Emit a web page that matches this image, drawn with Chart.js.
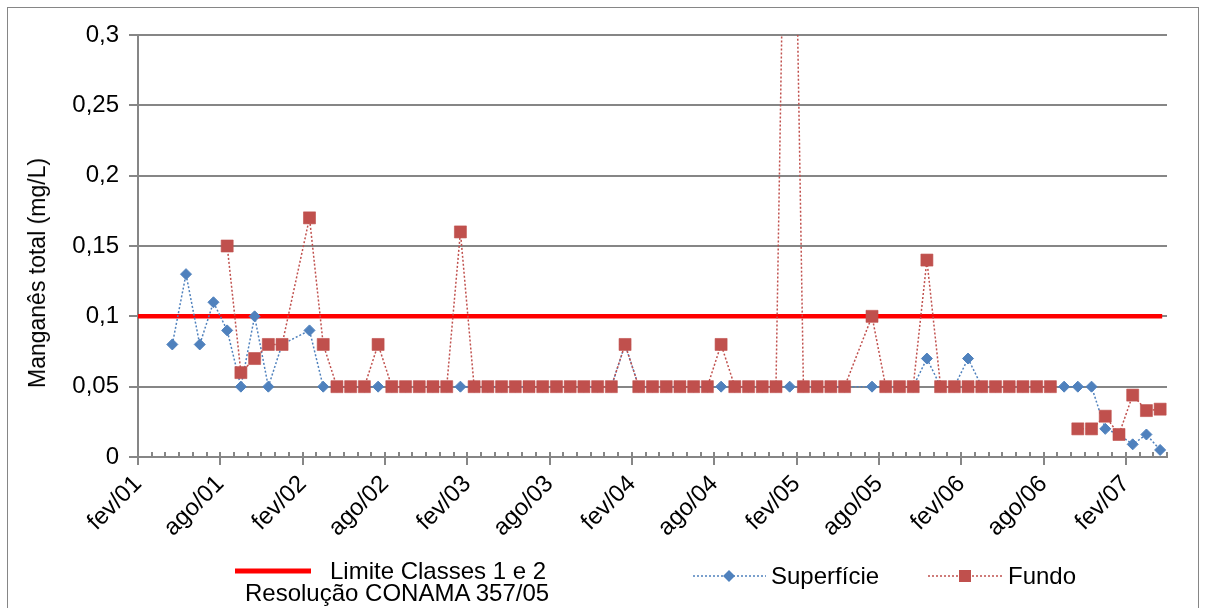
<!DOCTYPE html>
<html>
<head>
<meta charset="utf-8">
<script src="https://cdn.jsdelivr.net/npm/chart.js@4/dist/chart.umd.min.js"></script>
<style>
  body { margin: 0; background: #fff; font-family: 'Liberation Sans', Arial, sans-serif; }
  #wrap { position: relative; width: 1206px; height: 608px; overflow: hidden; }
  #frame { position: absolute; left: 7px; top: 7px; width: 1190px; height: 640px; border: 1px solid #868686; }
  canvas { position: absolute; left: 0; top: 0; }
  .leg { position: absolute; font-size: 24px; line-height: 24px; color: #000; white-space: nowrap; }
  #titulo { position: absolute; left: 37px; top: 273px; font-size: 23px; line-height: 24px; color: #000;
            white-space: nowrap; transform: translate(-50%, -50%) rotate(-90deg); }
  svg { position: absolute; }
</style>
</head>
<body>
<div id="wrap">
  <div id="frame"></div>
  <canvas id="grafico" width="1206" height="608"></canvas>
  <div id="titulo">Manganês total (mg/L)</div>

  <svg style="left:234px;top:566px" width="80" height="10"><line x1="1" y1="5" x2="77" y2="5" stroke="#ff0000" stroke-width="5"/></svg>
  <div class="leg" style="left:330px;top:559px">Limite Classes 1 e 2</div>
  <div class="leg" style="left:245px;top:581px">Resolução CONAMA 357/05</div>

  <svg style="left:692px;top:566px" width="76" height="20">
    <line x1="1" y1="10" x2="74" y2="10" stroke="#4f81bd" stroke-width="1.5" stroke-dasharray="2,2"/>
    <polygon points="37,4 43,10 37,16 31,10" fill="#4f81bd"/>
  </svg>
  <div class="leg" style="left:771px;top:564px">Superfície</div>

  <svg style="left:927px;top:566px" width="78" height="20">
    <line x1="1" y1="10" x2="76" y2="10" stroke="#c0504d" stroke-width="1.5" stroke-dasharray="2,2"/>
    <rect x="32" y="4" width="12" height="12" fill="#c0504d"/>
  </svg>
  <div class="leg" style="left:1008px;top:564px">Fundo</div>
</div>

<script>
// datas das coletas (mês/ano)
const meses = [
  'abr/01','mai/01','jun/01','jul/01','ago/01','set/01','out/01','nov/01','dez/01',
  'fev/02','mar/02','abr/02','mai/02','jun/02','jul/02','ago/02','set/02','out/02','nov/02','dez/02',
  'jan/03','fev/03','mar/03','abr/03','mai/03','jun/03','jul/03','ago/03','set/03','out/03','nov/03','dez/03',
  'jan/04','fev/04','mar/04','abr/04','mai/04','jun/04','jul/04','ago/04','set/04','out/04','nov/04','dez/04',
  'jan/05','fev/05','mar/05','abr/05','mai/05','jul/05','ago/05','set/05','out/05','nov/05','dez/05',
  'jan/06','fev/06','mar/06','abr/06','mai/06','jun/06','jul/06','ago/06','set/06','out/06','nov/06','dez/06',
  'jan/07','fev/07','mar/07','abr/07'
];

const superficie = [
  0.08, 0.13, 0.08, 0.11, 0.09, 0.05, 0.10, 0.05, 0.08,
  0.09, 0.05, 0.05, 0.05, 0.05, 0.05, 0.05, 0.05, 0.05, 0.05, 0.05,
  0.05, 0.05, 0.05, 0.05, 0.05, 0.05, 0.05, 0.05, 0.05, 0.05, 0.05, 0.05,
  0.08, 0.05, 0.05, 0.05, 0.05, 0.05, 0.05, 0.05, 0.05, 0.05, 0.05, 0.05,
  0.05, 0.05, 0.05, 0.05, 0.05, 0.05, 0.05, 0.05, 0.05, 0.07, 0.05,
  0.05, 0.07, 0.05, 0.05, 0.05, 0.05, 0.05, 0.05, 0.05, 0.05, 0.05, 0.02,
  0.016, 0.009, 0.016, 0.005
];

const fundo = [
  null, null, null, null, 0.15, 0.06, 0.07, 0.08, 0.08,
  0.17, 0.08, 0.05, 0.05, 0.05, 0.08, 0.05, 0.05, 0.05, 0.05, 0.05,
  0.16, 0.05, 0.05, 0.05, 0.05, 0.05, 0.05, 0.05, 0.05, 0.05, 0.05, 0.05,
  0.08, 0.05, 0.05, 0.05, 0.05, 0.05, 0.05, 0.08, 0.05, 0.05, 0.05, 0.05,
  0.65, 0.05, 0.05, 0.05, 0.05, 0.10, 0.05, 0.05, 0.05, 0.14, 0.05,
  0.05, 0.05, 0.05, 0.05, 0.05, 0.05, 0.05, 0.05, null, 0.02, 0.02, 0.029,
  0.016, 0.044, 0.033, 0.034
];

const limite = 0.1;   // Resolução CONAMA 357/05, classes 1 e 2
const rotulos = ['fev/01','ago/01','fev/02','ago/02','fev/03','ago/03','fev/04',
                 'ago/04','fev/05','ago/05','fev/06','ago/06','fev/07'];

const nomesMes = ['jan','fev','mar','abr','mai','jun','jul','ago','set','out','nov','dez'];
// meses desde fev/01, ponto no meio do mês
function posicao(m) {
  const [mes, ano] = m.split('/');
  return (Number(ano) - 1) * 12 + nomesMes.indexOf(mes) - 1 + 0.5;
}

const ptsSup = meses.map((m, i) => ({ x: posicao(m), y: superficie[i] }));
const ptsFun = meses.map((m, i) => ({ x: posicao(m), y: fundo[i] }))
  .filter((p, i) => i >= 4);
const ptsLim = [{ x: 0, y: limite }, { x: posicao(meses[meses.length - 1]) + 0.15, y: limite }];

const cinza = '#868686';
const fonte = "'Liberation Sans', Arial";

const marcasMenores = {
  id: 'marcasMenores',
  beforeDatasetsDraw(chart) {
    const sx = chart.scales.x, ctx = chart.ctx;
    ctx.save();
    ctx.strokeStyle = cinza;
    ctx.lineWidth = 2;
    sx.ticks.forEach(t => {
      const px = Math.round(sx.getPixelForValue(t.value));
      ctx.beginPath();
      ctx.moveTo(px, sx.top - 5);
      ctx.lineTo(px, sx.top);
      ctx.stroke();
    });
    ctx.restore();
  }
};

new Chart(document.getElementById('grafico'), {
  type: 'line',
  data: {
    datasets: [
      {
        label: 'Fundo',
        data: ptsFun,
        order: 1,
        borderColor: '#c0504d',
        borderWidth: 1.5,
        borderDash: [2, 2],
        pointStyle: 'rect',
        pointRadius: 8.5,
        pointBackgroundColor: '#c0504d',
        pointBorderColor: 'rgba(192,80,77,0.6)',
        pointBorderWidth: 1,
        spanGaps: false,
        tension: 0
      },
      {
        label: 'Superfície',
        data: ptsSup,
        order: 2,
        borderColor: '#4f81bd',
        borderWidth: 1.5,
        borderDash: [2, 2],
        pointStyle: 'rectRot',
        pointRadius: 5.5,
        pointBackgroundColor: '#4f81bd',
        pointBorderColor: '#4f81bd',
        pointBorderWidth: 1,
        tension: 0
      },
      {
        label: 'Limite Classes 1 e 2 Resolução CONAMA 357/05',
        data: ptsLim,
        order: 3,
        borderColor: '#ff0000',
        borderWidth: 4.5,
        pointRadius: 0
      }
    ]
  },
  options: {
    responsive: false,
    animation: false,
    layout: { padding: { left: 0, top: 35, right: 39, bottom: 0 } },
    plugins: {
      legend: { display: false },
      tooltip: { enabled: false }
    },
    scales: {
      x: {
        type: 'linear',
        min: 0,
        max: 75,
        afterFit: s => { s.height = 151; },
        ticks: {
          stepSize: 1,
          autoSkip: false,
          minRotation: 45,
          maxRotation: 45,
          padding: 5,
          color: '#000',
          font: { family: fonte, size: 24 },
          callback: v => (v % 6 === 0 ? rotulos[v / 6] : '')
        },
        grid: {
          drawOnChartArea: false,
          tickLength: 8,
          lineWidth: 2,
          color: c => (c.tick && c.tick.value % 6 === 0 ? cinza : 'rgba(0,0,0,0)')
        },
        border: { color: cinza, width: 2 }
      },
      y: {
        min: 0,
        max: 0.3,
        afterFit: s => { s.width = 138; },
        ticks: {
          stepSize: 0.05,
          padding: 10,
          color: '#000',
          font: { family: fonte, size: 24 },
          callback: v => String(+v.toFixed(2)).replace('.', ',')
        },
        grid: { color: cinza, lineWidth: 2, tickLength: 9 },
        border: { color: cinza, width: 2 }
      }
    }
  },
  plugins: [marcasMenores]
});
</script>
</body>
</html>
